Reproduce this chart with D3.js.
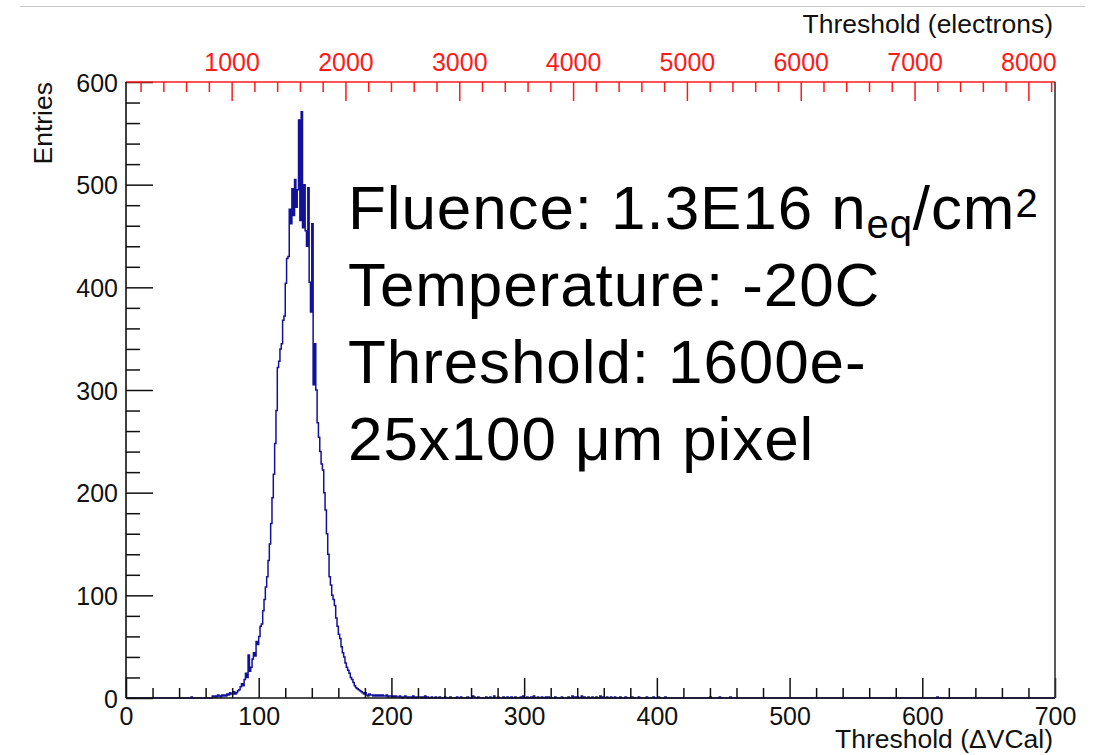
<!DOCTYPE html>
<html>
<head>
<meta charset="utf-8">
<script src="https://cdn.jsdelivr.net/npm/d3@7"></script>
<style>
  body { margin: 0; background: #fff; }
  svg { display: block; }
</style>
</head>
<body>
<svg id="chart" width="1094" height="755"></svg>
<script>
// ---- data -------------------------------------------------------------
// Threshold histogram, 1 ΔVCal per bin, bins 60..188 (core of the distribution)
const peakStart = 60;
const peakCounts = [
  0, 0, 0, 0, 0,          2, 1, 2, 1, 3,
  2, 1, 3, 2, 3,          2, 4, 3, 5, 4,
  4, 6, 4, 5, 7,          8, 11, 14, 12, 18,
  24, 20, 42, 26, 30,     38, 44, 41, 55, 52,
  60, 70, 72, 85, 96,     108, 118, 134, 150, 170,
  195, 218, 248, 280, 322, 328, 340, 345, 368, 372,
  404, 428, 430, 476, 462, 496, 470, 505, 478, 495,
  563, 465, 571, 458, 500, 455, 440, 497, 405, 376,
  462, 305, 345, 300, 268, 254, 240, 228, 222, 200,
  183, 160, 140, 118, 110, 100, 96, 90, 78, 70,
  62, 58, 50, 44, 40,     34, 30, 27, 24, 20,
  18, 15, 12, 10, 9,      8, 7, 6, 5, 4,
  5, 3, 2, 4, 3,          3, 2, 3, 2
];
// isolated entries outside the core: [bin, count]
const tailCounts = [
  [49, 1], [189, 3], [190, 2], [191, 3], [192, 2], [193, 3], [194, 2], [195, 2],
  [196, 3], [197, 1], [198, 2], [199, 2], [200, 1], [201, 2], [202, 1], [203, 2],
  [204, 1], [205, 1], [206, 2], [207, 1], [209, 1], [210, 2], [211, 1], [213, 1],
  [214, 1], [216, 2], [218, 1], [220, 1], [221, 1], [223, 1], [225, 2], [227, 1],
  [230, 1], [233, 1], [236, 1], [240, 1], [244, 1], [249, 1], [252, 1], [257, 1],
  [261, 2], [262, 1], [265, 1], [271, 1], [274, 1], [277, 2], [280, 1], [284, 1],
  [287, 1], [290, 1], [293, 1], [297, 1], [299, 2], [302, 1], [305, 1], [307, 2],
  [310, 1], [313, 1], [316, 1], [318, 1], [323, 1], [328, 1], [333, 1], [336, 2],
  [338, 1], [340, 1], [343, 2], [345, 1], [348, 1], [351, 1], [354, 1], [357, 2],
  [359, 1], [362, 1], [365, 1], [368, 1], [372, 1], [376, 1], [381, 1], [386, 1],
  [392, 1], [397, 1], [401, 1], [406, 1], [440, 1], [447, 1], [455, 1], [611, 1]
];
const nBins = 700;

const xMajorTicks = [0, 100, 200, 300, 400, 500, 600, 700];
const yMajorTicks = [0, 100, 200, 300, 400, 500, 600];
const eMajorTicks = [1000, 2000, 3000, 4000, 5000, 6000, 7000, 8000];

// ΔVCal -> electrons calibration used for the upper axis
const electronsPerVCal = 11.66;
const electronOffset = 72;

const infoLines = ["Temperature: -20C", "Threshold: 1600e-", "25x100 μm pixel"];

// ---- geometry ---------------------------------------------------------
const W = 1094, H = 755;
const frameL = 126, frameR = 1055, frameT = 82, frameB = 698;
const FONT = "'Liberation Sans', Arial, Helvetica, sans-serif";
const TITLE_SIZE = 26.5;

const svg = d3.select("#chart");
svg.append("rect").attr("width", W).attr("height", H).attr("fill", "#fff");

const x = d3.scaleLinear().domain([0, 700]).range([frameL, frameR]);
const y = d3.scaleLinear().domain([0, 600]).range([frameB, frameT]);
const toE = v => electronOffset + electronsPerVCal * v;
const xe = d3.scaleLinear().domain([toE(0), toE(700)]).range([frameL, frameR]);

// separator line across the page top
svg.append("line")
  .attr("x1", 20).attr("x2", 1085).attr("y1", 6.5).attr("y2", 6.5)
  .attr("stroke", "#c8c8c8").attr("stroke-width", 1);

// ---- histogram --------------------------------------------------------
const counts = new Array(nBins).fill(0);
peakCounts.forEach((c, i) => { counts[peakStart + i] = c; });
tailCounts.forEach(([b, c]) => { counts[b] = c; });

const pts = [];
counts.forEach((c, i) => { pts.push([i, c]); pts.push([i + 1, c]); });

svg.append("path")
  .datum(pts)
  .attr("fill", "none")
  .attr("stroke", "#11119a")
  .attr("stroke-width", 1.5)
  .attr("stroke-linejoin", "miter")
  .attr("d", d3.line().x(d => x(d[0])).y(d => y(d[1])));

// ---- axes -------------------------------------------------------------
function minorTicks(domain, step, majorStep) {
  const out = [];
  const start = Math.ceil(domain[0] / step) * step;
  for (let v = start; v <= domain[1] + 1e-9; v += step) {
    if (Math.abs(v / majorStep - Math.round(v / majorStep)) > 1e-9) out.push(v);
  }
  return out;
}

function styleAxis(g, color) {
  g.select(".domain").remove();
  g.selectAll(".tick line").attr("stroke", color).attr("stroke-width", 1.5);
  g.selectAll(".tick text")
    .attr("fill", color)
    .attr("font-family", FONT)
    .attr("font-size", 25);
}

// bottom ΔVCal axis (ticks pointing into the frame)
const gxMinor = svg.append("g").attr("transform", `translate(0,${frameB})`)
  .call(d3.axisBottom(x).tickValues(minorTicks([0, 700], 20, 100)).tickSize(-10).tickFormat(""));
styleAxis(gxMinor, "#111");
const gx = svg.append("g").attr("transform", `translate(0,${frameB})`)
  .call(d3.axisBottom(x).tickValues(xMajorTicks).tickSize(-20).tickPadding(9).tickFormat(d3.format("d")));
styleAxis(gx, "#111");

// left Entries axis
const gyMinor = svg.append("g").attr("transform", `translate(${frameL},0)`)
  .call(d3.axisLeft(y).tickValues(minorTicks([0, 600], 20, 100)).tickSize(-14).tickFormat(""));
styleAxis(gyMinor, "#111");
const gy = svg.append("g").attr("transform", `translate(${frameL},0)`)
  .call(d3.axisLeft(y).tickValues(yMajorTicks).tickSize(-27).tickPadding(8).tickFormat(d3.format("d")));
styleAxis(gy, "#111");
gy.selectAll(".tick text").attr("dy", "0.36em");

// top electrons axis (red)
const RED = "#ff1a1a";
const geMinor = svg.append("g").attr("transform", `translate(0,${frameT})`)
  .call(d3.axisTop(xe).tickValues(minorTicks(xe.domain(), 200, 1000)).tickSize(-10).tickFormat(""));
styleAxis(geMinor, RED);
const ge = svg.append("g").attr("transform", `translate(0,${frameT})`)
  .call(d3.axisTop(xe).tickValues(eMajorTicks).tickSize(-19).tickPadding(11).tickFormat(d3.format("d")));
styleAxis(ge, RED);

// frame
svg.append("line").attr("x1", frameL).attr("x2", frameR).attr("y1", frameT).attr("y2", frameT)
  .attr("stroke", RED).attr("stroke-width", 1.6);
svg.append("line").attr("x1", frameL).attr("x2", frameL).attr("y1", frameT).attr("y2", frameB)
  .attr("stroke", "#111").attr("stroke-width", 1.6);
svg.append("line").attr("x1", frameL).attr("x2", frameR).attr("y1", frameB).attr("y2", frameB)
  .attr("stroke", "#111").attr("stroke-width", 1.6);
svg.append("line").attr("x1", frameR).attr("x2", frameR).attr("y1", frameT).attr("y2", frameB)
  .attr("stroke", "#333").attr("stroke-width", 1.6);

// axis titles
svg.append("text")
  .attr("x", 1053).attr("y", 748)
  .attr("text-anchor", "end")
  .attr("font-family", FONT).attr("font-size", TITLE_SIZE).attr("fill", "#111")
  .text("Threshold (\u0394VCal)");

svg.append("text")
  .attr("x", 1053).attr("y", 33)
  .attr("text-anchor", "end")
  .attr("font-family", FONT).attr("font-size", TITLE_SIZE).attr("fill", "#111")
  .text("Threshold (electrons)");

svg.append("text")
  .attr("transform", `translate(52,${frameT}) rotate(-90)`)
  .attr("text-anchor", "end")
  .attr("font-family", FONT).attr("font-size", TITLE_SIZE).attr("fill", "#111")
  .text("Entries");

// ---- run conditions ---------------------------------------------------
const info = svg.append("g")
  .attr("font-family", FONT).attr("font-size", 62).attr("letter-spacing", 0.9)
  .attr("fill", "#000");

const l1 = info.append("text").attr("x", 348).attr("y", 229);
l1.append("tspan").text("Fluence: 1.3E16 n");
l1.append("tspan").attr("font-size", 40).attr("dy", 9).text("eq");
l1.append("tspan").attr("dy", -9).text("/cm");
l1.append("tspan").attr("font-size", 40).attr("dy", -12).text("2");

infoLines.forEach((t, i) => {
  info.append("text").attr("x", 348).attr("y", 306 + i * 77).text(t);
});
</script>
</body>
</html>
